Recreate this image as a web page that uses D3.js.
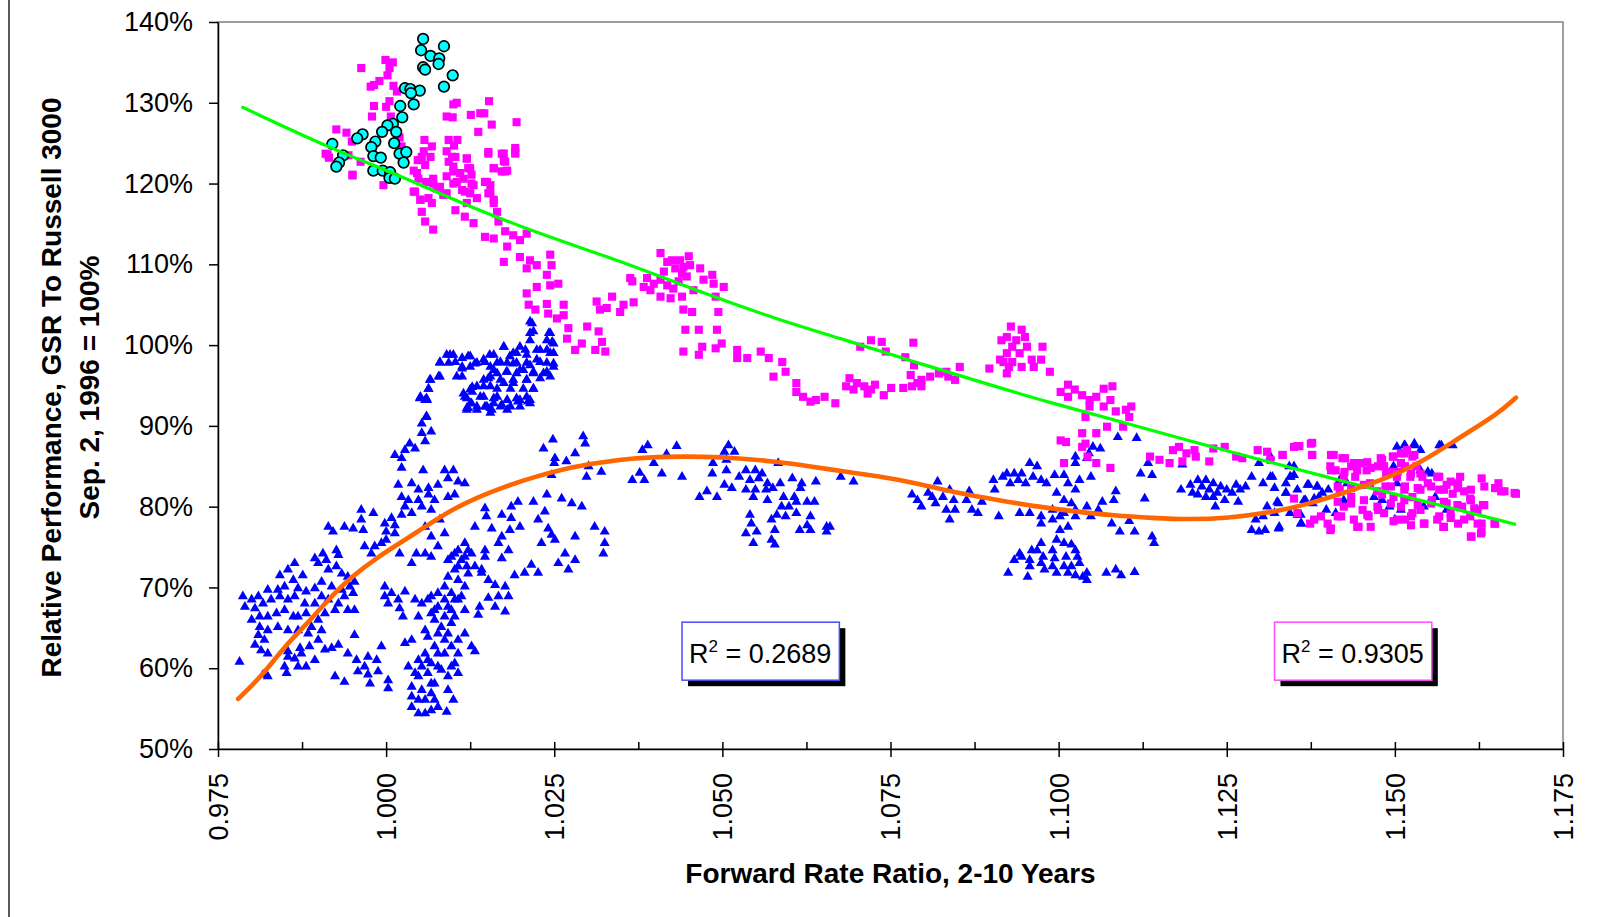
<!DOCTYPE html>
<html>
<head>
<meta charset="utf-8">
<script src="https://cdn.jsdelivr.net/npm/d3@7"></script>
<style>
	html, body { margin: 0; padding: 0; background: #fff; }
	svg { display: block; }
</style>
</head>
<body>
<svg id="chart" width="1601" height="917"></svg>
<script>
const FONT = "'Liberation Sans', Arial, Helvetica, sans-serif";

// axis ticks
const xTicks = [0.975, 1.0, 1.025, 1.05, 1.075, 1.1, 1.125, 1.15, 1.175];
const xMinorTicks = [0.9875, 1.0125, 1.0375, 1.0625, 1.0875, 1.1125, 1.1375, 1.1625];
const yTicks = [50, 60, 70, 80, 90, 100, 110, 120, 130, 140];

// series: [forward rate ratio, relative performance %]
const cyanDots = [
	[1.0055,137.9],[1.0052,136.5],[1.0086,137.0],[1.0066,135.8],[1.0079,135.5],[1.0078,134.8],[1.0055,134.4],[1.0058,134.1],
	[1.0099,133.4],[1.0086,132.0],[1.0028,131.8],[1.0036,131.7],[1.0050,131.5],[1.0037,131.2],[1.0041,129.8],[1.0021,129.6],
	[1.0024,128.2],[1.0010,127.4],[1.0015,126.4],[1.0002,127.2],[0.9994,126.4],[0.9965,126.1],[0.9957,125.6],[0.9984,125.2],
	[0.9978,124.5],[0.9981,123.4],[0.9992,123.2],[1.0012,125.0],[1.0020,123.7],[1.0030,123.9],[1.0026,122.6],[0.9920,124.9],
	[0.9936,123.5],[0.9930,122.6],[0.9926,122.1],[0.9981,121.6],[0.9995,121.6],[1.0006,121.4],[1.0005,120.7],[1.0013,120.6]
];

const magentaSquares = [
	// 1996-97 run
	[0.9963,134.3],[0.9999,135.3],[1.0010,135.0],[1.0005,134.3],[1.0002,133.4],[0.9990,132.7],[0.9977,132.0],[0.9982,132.2],
	[1.0011,132.1],[1.0016,131.4],[1.0005,130.2],[0.9982,129.6],[1.0000,129.5],[0.9979,128.3],[0.9926,126.7],[0.9941,126.3],
	[0.9949,125.2],[0.9913,123.6],[0.9944,123.5],[0.9950,121.0],[0.9996,119.8],[0.9962,122.7],[1.0020,125.7],[1.0023,124.6],
	[1.0007,128.3],[1.0057,125.4],[1.0056,124.0],[1.0068,124.6],[1.0066,123.3],[1.0047,122.9],[1.0041,121.6],[1.0048,120.6],
	[1.0059,120.2],[1.0041,119.0],[1.0051,118.0],[1.0070,120.6],[1.0075,119.4],[1.0085,118.6],[1.0063,118.2],[1.0093,125.4],
	[1.0101,124.7],[1.0090,124.0],[1.0103,123.3],[1.0093,122.7],[1.0100,121.5],[1.0090,120.9],[1.0105,120.2],[1.0110,121.3],
	[1.0120,123.1],[1.0122,121.9],[1.0115,120.6],[1.0127,121.1],[1.0130,119.8],[1.0117,119.0],[1.0135,118.2],[1.0147,120.2],
	[1.0155,119.8],[1.0160,118.0],[1.0152,118.8],[1.0100,129.8],[1.0105,130.0],[1.0090,128.3],[1.0099,128.2],[1.0126,128.5],
	[1.0140,128.7],[1.0146,128.7],[1.0153,130.2],[1.0157,127.3],[1.0137,126.4],[1.0194,127.6],[1.0152,123.7],[1.0172,123.7],
	[1.0175,122.8],[1.0192,124.4],[1.0192,123.7],[1.0160,121.9],[1.0172,121.5],[1.0180,121.6],[1.0177,122.7],[1.0106,125.4],
	[0.9910,123.7],[0.9915,123.2],[0.9950,121.1],
	[1.0053,123.3],[1.0058,122.3],[1.0046,121.3],[1.0043,119.0],[1.0051,118.0],[1.0053,116.5],[1.0058,115.3],[1.0070,114.3],
	[1.0068,117.6],[1.0070,120.0],[1.0080,119.6],[1.0090,118.8],[1.0100,120.0],[1.0113,119.2],[1.0125,118.8],[1.0127,120.0],
	[1.0103,116.7],[1.0117,115.9],[1.0130,115.1],[1.0120,117.6],[1.0098,123.3],[1.0120,123.1],[1.0100,122.1],[1.0125,121.9],
	[1.0152,123.9],[1.0175,123.7],[1.0192,123.9],[1.0160,121.9],[1.0177,121.5],[1.0150,120.2],[1.0155,118.8],[1.0160,117.6],
	[1.0165,116.5],[1.0167,115.3],[1.0147,113.4],[1.0160,113.2],[1.0177,114.1],[1.0189,113.6],[1.0199,113.0],[1.0209,113.8],
	[1.0180,112.2],[1.0175,110.3],[1.0199,110.9],[1.0214,110.5],[1.0224,109.9],[1.0209,109.5],[1.0244,111.2],[1.0246,109.9],
	[1.0239,108.7],[1.0224,107.2],[1.0244,107.4],[1.0256,107.6],[1.0209,106.4],[1.0212,105.0],[1.0222,104.4],[1.0239,105.1],
	[1.0241,103.9],[1.0264,105.0],[1.0264,103.7],[1.0254,103.3],[1.0271,102.1],[1.0269,100.8],[1.0281,99.4],[1.0291,100.2],
	[1.0299,102.3],[1.0316,101.7],[1.0311,99.4],[1.0326,99.2],[1.0321,100.4],[1.0313,105.4],[1.0318,104.4],[1.0328,104.6],
	[1.0336,106.0],[1.0348,104.1],[1.0353,105.0],[1.0368,105.3],
	// 1998 hump
	[1.0408,111.4],[1.0418,110.3],[1.0413,109.1],[1.0425,110.5],[1.0430,109.5],[1.0437,110.5],[1.0442,109.7],[1.0450,111.0],
	[1.0452,109.9],[1.0440,108.9],[1.0447,108.5],[1.0435,107.9],[1.0427,107.0],[1.0418,107.4],[1.0408,108.1],[1.0398,107.6],
	[1.0388,108.3],[1.0383,107.2],[1.0393,106.8],[1.0408,106.0],[1.0423,105.8],[1.0440,106.0],[1.0457,106.8],[1.0467,109.5],
	[1.0472,108.1],[1.0485,108.7],[1.0487,107.6],[1.0502,107.2],[1.0490,106.0],[1.0494,104.1],[1.0442,104.4],[1.0455,104.1],
	[1.0363,108.3],[1.0366,107.9],
	[1.0445,101.9],[1.0465,101.9],[1.0492,101.9],[1.0470,99.8],[1.0442,99.2],[1.0465,98.8],[1.0490,99.6],[1.0499,100.2],
	[1.0522,99.4],[1.0522,98.4],[1.0537,98.4],[1.0557,99.2],[1.0569,98.4],[1.0589,97.9],[1.0576,96.1],[1.0594,96.7],
	[1.0610,95.3],[1.0610,94.2],[1.0620,93.6],[1.0639,93.2],[1.0631,93.0],[1.0652,93.6],[1.0668,92.8],
	[1.0705,99.8],[1.0721,100.6],[1.0737,100.4],[1.0743,99.2],[1.0784,100.3],[1.0772,98.5],[1.0785,97.5],[1.0780,96.3],
	[1.0790,95.3],[1.0796,95.7],[1.0809,96.1],[1.0769,94.7],[1.0782,94.9],[1.0796,94.9],[1.0751,94.7],[1.0740,93.8],
	[1.0721,94.5],[1.0727,95.1],[1.0711,94.9],[1.0700,95.3],[1.0689,95.9],[1.0684,94.9],[1.0695,94.5],[1.0716,94.0],
	[1.0822,96.5],[1.0836,96.1],[1.0846,95.7],[1.0853,97.3],[1.0833,96.7],
	// 1999 spike
	[1.0929,102.3],[1.0945,101.9],[1.0923,101.0],[1.0915,100.6],[1.0937,100.6],[1.0950,101.0],[1.0931,99.8],[1.0942,99.0],
	[1.0923,99.0],[1.0918,97.9],[1.0926,97.3],[1.0923,96.5],[1.0945,97.3],[1.0960,98.2],[1.0974,98.2],[1.0976,99.8],
	[1.0963,97.3],[1.0987,96.7],[1.0953,99.8],[1.0897,97.1],[1.0913,98.2],[1.0931,97.9],
	[1.1014,95.1],[1.1024,94.5],[1.1003,94.2],[1.1014,93.6],[1.1035,93.8],[1.1046,93.2],[1.1056,93.6],[1.1067,94.6],
	[1.1080,94.9],[1.1077,93.2],[1.1085,91.8],[1.1067,92.4],[1.1046,92.4],[1.1040,91.1],[1.1072,89.9],[1.1056,89.1],
	[1.1035,89.1],[1.1040,87.8],[1.1003,88.2],[1.1011,88.0],[1.1008,85.4],[1.1056,85.4],[1.1077,84.8],[1.1043,86.2],
	[1.1035,87.4],[1.1108,92.4],[1.1100,92.0],[1.1105,91.1],[1.1096,89.9],
	// 2000 onward
	[1.1136,86.2],[1.1150,85.8],[1.1165,85.4],[1.1170,87.0],[1.1179,87.4],[1.1190,86.6],[1.1184,85.6],[1.1202,87.0],
	[1.1204,86.2],[1.1224,85.6],[1.1230,87.2],[1.1247,87.4],[1.1264,86.2],[1.1273,86.0],[1.1296,87.0],[1.1310,86.8],
	[1.1315,85.8],[1.1333,86.4],[1.1350,87.4],[1.1358,87.5],[1.1375,87.8],[1.1377,86.4],[1.1350,81.0],[1.1355,79.2],
	[1.1374,77.9],[1.1390,78.8],[1.1404,77.1],[1.1409,86.4],[1.1426,86.0],[1.1412,84.5],[1.1404,85.0],[1.1424,83.7],
	[1.1435,85.0],[1.1449,85.4],[1.1458,84.5],[1.1441,83.7],[1.1418,82.1],[1.1435,81.2],[1.1424,80.0],[1.1415,78.8],
	[1.1452,79.6],[1.1446,77.5],[1.1461,78.8],[1.1475,79.6],[1.1481,81.5],[1.1486,82.5],[1.1481,85.8],[1.1498,86.2],
	[1.1509,86.6],[1.1518,87.0],[1.1526,86.2],[1.1532,85.0],[1.1515,85.0],[1.1503,83.7],[1.1492,84.3],[1.1523,83.7],
	[1.1538,84.1],[1.1515,82.5],[1.1498,81.2],[1.1509,80.0],[1.1526,81.2],[1.1538,82.1],[1.1549,82.9],[1.1566,83.7],
	[1.1566,82.1],[1.1555,80.8],[1.1538,79.6],[1.1526,79.2],[1.1515,78.4],[1.1498,78.2],[1.1543,77.9],[1.1566,78.8],
	[1.1577,80.4],[1.1586,81.6],[1.1594,82.9],[1.1603,81.9],[1.1612,81.0],[1.1600,80.0],[1.1583,79.2],[1.1572,77.5],
	[1.1594,77.9],[1.1612,78.8],[1.1623,79.6],[1.1629,77.9],[1.1649,77.9],[1.1631,80.2],[1.1629,83.5],[1.1649,82.3],
	[1.1663,81.9],[1.1680,81.6],[1.1654,82.9],[1.1614,76.3],[1.1629,76.9],[1.1597,83.7],[1.1577,82.7],[1.1475,85.0],
	[1.1463,82.9],
	[1.1405,86.4],[1.1422,86.0],[1.1439,85.4],[1.1459,85.5],[1.1479,86.0],[1.1497,86.2],[1.1514,86.6],[1.1529,86.4],
	[1.1509,85.4],[1.1484,85.0],[1.1405,84.5],[1.1425,84.3],[1.1444,84.5],[1.1464,84.8],[1.1487,84.1],[1.1504,84.3],
	[1.1524,84.1],[1.1541,83.7],[1.1563,83.7],[1.1583,83.1],[1.1415,82.5],[1.1435,82.3],[1.1454,82.7],[1.1474,81.9],
	[1.1494,82.5],[1.1514,82.1],[1.1534,82.3],[1.1554,82.5],[1.1573,82.1],[1.1593,82.3],[1.1613,82.1],[1.1633,82.5],
	[1.1658,81.9],[1.1678,81.7],[1.1415,80.6],[1.1435,80.4],[1.1454,80.8],[1.1474,80.0],[1.1494,80.4],[1.1514,80.8],
	[1.1534,80.2],[1.1554,80.4],[1.1573,80.6],[1.1593,80.2],[1.1613,80.8],[1.1633,80.2],[1.1618,79.8],[1.1380,78.4],
	[1.1400,77.9],[1.1420,78.8],[1.1439,78.4],[1.1459,79.0],[1.1484,79.2],[1.1504,78.4],[1.1524,78.8],[1.1544,77.9],
	[1.1563,78.4],[1.1583,78.6],[1.1603,78.4],[1.1623,77.9],[1.1648,77.9],[1.1405,77.3],[1.1444,77.5],[1.1464,77.5],
	[1.1524,77.7],[1.1573,77.5],[1.1613,76.3],[1.1628,76.7],[1.1355,87.5],[1.1377,87.9],[1.1377,86.4],[1.1333,86.4]
];

const blueTriangles = [
	// upper cluster
	[1.0214,102.9],[1.0219,101.7],[1.0214,100.6],[1.0244,101.5],[1.0239,100.6],[1.0249,100.2],[1.0207,99.4],[1.0224,99.4],
	[1.0239,99.4],[1.0249,99.0],[1.0194,99.0],[1.0184,98.6],[1.0175,99.8],[1.0160,98.8],[1.0145,98.2],[1.0155,97.3],
	[1.0165,97.8],[1.0180,97.8],[1.0194,97.8],[1.0209,97.8],[1.0224,98.2],[1.0239,97.8],[1.0249,97.3],[1.0135,97.8],
	[1.0125,98.6],[1.0113,98.4],[1.0100,98.8],[1.0090,98.8],[1.0080,97.8],[1.0093,97.8],[1.0113,97.1],[1.0125,97.3],
	[1.0105,96.1],[1.0080,96.1],[1.0065,95.7],[1.0063,94.6],[1.0050,93.4],[1.0060,93.4],[1.0115,94.0],[1.0125,94.5],
	[1.0135,94.9],[1.0145,95.7],[1.0155,96.1],[1.0165,96.5],[1.0180,96.7],[1.0194,96.5],[1.0204,96.9],[1.0219,96.7],
	[1.0234,96.5],[1.0244,96.1],[1.0209,95.7],[1.0189,95.3],[1.0175,95.3],[1.0155,94.9],[1.0165,93.6],[1.0145,93.6],
	[1.0125,92.8],[1.0120,92.0],[1.0135,92.0],[1.0150,92.4],[1.0160,92.8],[1.0180,93.2],[1.0194,93.4],[1.0209,93.6],
	[1.0219,94.6],[1.0214,92.8],[1.0199,92.4],[1.0180,92.0],[1.0155,91.6],[1.0060,91.2],
	[1.0217,102.7],[1.0214,101.5],[1.0242,101.5],[1.0247,100.4],[1.0175,99.8],[1.0199,99.8],[1.0189,99.0],[1.0209,98.8],
	[1.0229,99.4],[1.0244,99.0],[1.0154,98.8],[1.0147,97.9],[1.0170,97.9],[1.0189,97.7],[1.0214,97.5],[1.0229,97.9],
	[1.0249,97.7],[1.0160,96.9],[1.0179,96.7],[1.0199,96.9],[1.0219,96.5],[1.0239,96.7],[1.0152,95.9],[1.0170,95.7],
	[1.0189,95.7],[1.0209,95.7],[1.0229,95.9],[1.0145,94.9],[1.0165,94.6],[1.0185,94.6],[1.0204,94.6],[1.0219,94.6],
	[1.0128,94.2],[1.0120,93.4],[1.0140,93.6],[1.0160,93.4],[1.0180,93.2],[1.0199,93.2],[1.0214,93.2],[1.0120,92.2],
	[1.0135,92.4],[1.0155,92.2],[1.0170,92.4],[1.0185,92.4],[1.0095,98.8],[1.0080,97.9],[1.0103,97.9],[1.0122,98.6],
	[1.0113,97.3],[1.0132,97.7],[1.0078,96.1],[1.0113,96.1],[1.0066,95.7],[1.0063,94.6],[1.0051,93.6],[1.0061,93.2],
	[1.0128,94.8],[1.0117,93.6],
	[1.0058,93.2],[1.0060,91.1],[1.0053,90.3],[1.0067,89.3],[1.0053,89.1],[1.0058,88.1],[1.0035,87.8],[1.0028,87.0],
	[1.0043,87.2],[1.0013,86.4],[1.0023,86.0],[1.0023,84.8],[1.0055,84.5],
	[1.0127,92.8],[1.0147,92.4],[1.0172,92.6],[1.0196,93.0],[1.0211,93.0],[1.0122,92.2],[1.0157,92.0],
	[1.0248,88.3],[1.0293,88.7],[1.0296,87.8],[1.0234,87.2],[1.0251,86.0],[1.0281,86.6],[1.0268,85.6],[1.0250,85.4],
	[1.0301,85.0],[1.0320,84.3],[1.0298,83.7],[1.0246,83.9],
	// lower left mass
	[1.0018,82.7],[1.0038,82.9],[1.0048,82.1],[1.0063,82.3],[1.0077,82.7],[1.0092,83.5],[1.0087,84.5],[1.0100,84.5],
	[1.0107,83.1],[1.0117,82.9],[1.0102,81.5],[1.0092,81.2],[1.0072,80.8],[1.0063,81.5],[1.0048,80.8],[1.0033,80.8],
	[1.0023,81.2],[1.0028,80.0],[1.0038,79.2],[1.0023,79.0],[1.0053,80.0],[1.0067,79.6],[1.0008,78.6],[0.9998,77.9],
	[1.0013,77.7],[1.0000,76.9],[1.0013,76.7],[0.9983,75.1],[0.9968,75.1],[0.9978,74.2],[0.9993,75.5],[1.0000,75.9],
	[1.0020,74.2],[1.0038,73.0],[1.0045,74.2],[1.0058,74.2],[1.0067,73.8],[1.0077,75.1],[1.0067,76.3],[1.0087,76.7],
	[1.0080,78.4],[1.0058,77.5],
	[0.9963,79.6],[0.9981,79.2],[0.9963,78.4],[0.9914,77.5],[0.9921,76.9],[0.9938,77.5],[0.9951,77.3],[0.9966,77.1],
	[0.9926,74.6],[0.9929,74.0],[0.9906,74.2],[0.9894,73.6],[0.9864,73.0],[0.9854,72.2],[0.9842,71.5],[0.9862,70.9],
	[0.9876,71.5],[0.9899,73.0],[0.9911,73.4],[0.9914,72.2],[0.9926,72.6],[0.9934,71.7],[0.9943,71.3],[0.9953,70.7],
	[0.9946,70.1],[0.9934,69.7],[0.9919,70.1],[0.9904,70.7],[0.9894,69.9],[0.9881,69.5],[0.9869,69.9],[0.9849,70.1],
	[0.9839,69.7],[0.9824,69.7],[0.9810,68.9],[0.9800,68.5],[0.9787,68.9],[0.9790,67.6],[0.9805,67.4],[0.9817,68.0],
	[0.9829,68.5],[0.9842,68.9],[0.9854,68.5],[0.9864,68.9],[0.9879,68.0],[0.9894,68.0],[0.9904,68.9],[0.9914,68.5],
	[0.9929,68.0],[0.9938,68.9],[0.9951,69.3],[0.9953,67.2],[0.9943,67.2],[0.9924,67.2],[0.9909,66.8],[0.9899,66.0],
	[0.9889,65.1],[0.9904,64.7],[0.9884,64.3],[0.9869,64.7],[0.9854,64.7],[0.9839,65.1],[0.9824,64.7],[0.9812,65.1],
	[0.9800,66.0],[0.9812,66.4],[0.9824,66.4],[0.9837,66.8],[0.9849,67.2],[0.9862,66.4],[0.9869,66.4],[0.9881,66.8],
	[0.9810,64.1],[0.9819,63.5],[0.9805,62.9],[0.9814,62.2],[0.9824,61.8],[0.9782,60.8],[0.9854,62.1],[0.9872,62.5],
	[0.9869,60.2],[0.9881,60.2],[0.9849,60.2],[0.9852,59.4],[0.9824,59.0],[0.9817,59.2],[0.9854,61.4],[0.9864,61.2],
	[0.9874,61.8],[0.9886,62.7],[0.9899,63.5],[0.9909,62.3],[0.9894,61.0],
	[0.9953,64.1],[0.9943,61.8],[0.9956,61.0],[0.9973,61.4],[0.9968,60.2],[0.9986,61.0],[0.9988,59.6],[0.9973,59.2],
	[0.9958,59.6],[0.9938,58.3],[0.9924,59.0],[0.9919,62.5],[0.9929,62.9],[0.9993,62.7],[0.9976,58.1],[1.0003,58.5],
	[1.0003,57.5],
	[0.9998,68.9],[1.0008,69.3],[1.0018,68.5],[1.0028,69.5],[1.0043,68.5],[1.0003,68.0],[1.0020,67.4],[0.9998,70.1],
	[1.0025,66.4],[1.0062,68.5],
	// 1.01 column
	[1.0117,75.5],[1.0107,74.6],[1.0097,73.8],[1.0112,73.4],[1.0120,72.6],[1.0102,72.2],[1.0092,71.3],[1.0107,70.9],
	[1.0117,70.1],[1.0097,69.3],[1.0087,68.5],[1.0107,68.5],[1.0077,67.6],[1.0097,67.2],[1.0117,67.2],[1.0087,66.4],
	[1.0072,66.0],[1.0097,65.6],[1.0077,64.3],[1.0062,63.9],[1.0087,63.5],[1.0107,63.5],[1.0072,62.7],[1.0058,61.8],
	[1.0087,61.8],[1.0048,61.0],[1.0067,60.6],[1.0043,59.4],[1.0062,59.4],[1.0082,59.8],[1.0097,60.2],[1.0038,57.7],
	[1.0053,57.3],[1.0067,56.9],[1.0048,56.1],[1.0058,54.4],[1.0077,55.2],[1.0048,54.4],[1.0092,57.3],[1.0100,56.1],
	[1.0090,54.6],[1.0038,56.5],[1.0033,60.2],[1.0117,64.3],[1.0127,62.7],[1.0132,62.1],[1.0107,61.8],[1.0102,60.6],
	[1.0072,58.1],[1.0028,63.1],[1.0038,63.5],[1.0058,64.7],[1.0048,66.4],[1.0067,68.9],[1.0053,68.0],[1.0077,69.3],
	[1.0087,70.1],[1.0122,71.7],[1.0132,72.6],[1.0142,72.2],[1.0147,73.8],[1.0127,74.2],
	[1.0072,67.2],[1.0082,65.1],[1.0092,64.3],[1.0102,66.4],[1.0067,66.8],[1.0077,61.8],[1.0097,62.7],[1.0062,61.0],
	[1.0077,60.2],[1.0053,60.2],[1.0092,59.0],[1.0107,59.4],[1.0048,59.0],[1.0067,58.1],[1.0058,56.1],[1.0072,56.1],
	[1.0038,55.2],[1.0067,54.8],[1.0112,68.9],[1.0092,67.6],[1.0102,68.5],[1.0092,73.4],[1.0107,72.6],[1.0117,73.8],
	[1.0122,74.6],[1.0102,74.2],
	[1.0132,77.5],[1.0147,79.8],[1.0149,78.8],[1.0157,77.3],[1.0172,79.0],[1.0186,80.0],[1.0196,80.6],[1.0219,80.6],
	[1.0239,81.5],[1.0261,81.0],[1.0276,80.4],[1.0291,80.0],[1.0236,79.4],[1.0186,78.6],[1.0199,77.5],[1.0184,77.1],
	[1.0167,75.5],[1.0172,76.3],[1.0182,74.6],[1.0172,73.6],[1.0147,74.6],[1.0142,71.8],[1.0152,70.9],[1.0162,70.3],
	[1.0177,70.1],[1.0191,71.5],[1.0206,71.8],[1.0226,71.8],[1.0216,72.8],[1.0226,78.4],[1.0241,77.3],[1.0246,76.5],
	[1.0231,75.5],[1.0251,75.9],[1.0266,74.2],[1.0256,73.0],[1.0271,72.2],[1.0281,73.4],[1.0310,77.5],[1.0325,76.9],
	[1.0325,75.5],[1.0323,74.2],[1.0281,76.3],[1.0152,68.7],[1.0162,67.6],[1.0177,67.0],[1.0167,68.9],[1.0182,68.9],
	[1.0139,67.6],[1.0137,66.6],
	// 1998 stretch
	[1.0381,87.0],[1.0389,87.6],[1.0417,86.5],[1.0432,87.5],[1.0398,85.4],[1.0377,84.2],[1.0410,84.1],[1.0366,83.3],
	[1.0384,83.3],[1.0440,83.7],[1.0466,81.2],[1.0477,81.9],[1.0492,81.2],[1.0486,85.4],[1.0503,86.8],[1.0509,87.6],
	[1.0518,86.8],[1.0506,85.8],[1.0506,84.5],[1.0485,84.1],[1.0503,82.7],[1.0514,82.3],[1.0525,83.7],[1.0535,84.5],
	[1.0549,84.5],[1.0559,84.1],[1.0541,83.3],[1.0554,83.5],[1.0535,82.1],[1.0549,82.1],[1.0546,81.2],[1.0567,82.9],
	[1.0565,82.1],[1.0575,82.3],[1.0567,80.8],[1.0586,82.9],[1.0604,83.5],[1.0618,82.9],[1.0616,82.3],[1.0639,83.1],
	[1.0583,85.4],[1.0591,81.2],[1.0607,81.2],[1.0588,80.0],[1.0610,80.6],[1.0626,80.6],[1.0637,80.6],[1.0599,80.0],
	[1.0610,79.2],[1.0581,79.0],[1.0594,78.8],[1.0631,78.8],[1.0626,77.7],[1.0573,78.4],[1.0578,77.1],[1.0541,79.0],
	[1.0543,77.9],[1.0535,76.7],[1.0551,76.9],[1.0546,75.5],[1.0573,75.9],[1.0578,75.3],[1.0615,77.1],[1.0631,77.1],
	[1.0655,77.5],[1.0660,77.5],[1.0655,76.9],[1.0676,83.7],[1.0695,83.1],
	[1.0782,81.5],[1.0790,80.8],[1.0796,80.0],[1.0806,81.7],[1.0812,81.2],[1.0817,80.4],[1.0820,83.1],[1.0828,81.2],
	[1.0833,79.6],[1.0838,82.1],[1.0844,80.8],[1.0846,79.6],[1.0838,78.4],
	// 1999-2000
	[1.0863,80.8],[1.0867,81.9],[1.0871,79.6],[1.0880,79.2],[1.0886,80.6],[1.0903,83.3],[1.0905,82.1],[1.0911,78.8],
	[1.0917,83.7],[1.0923,84.1],[1.0928,82.9],[1.0934,84.1],[1.0940,83.3],[1.0945,84.1],[1.0951,82.9],[1.0957,85.4],
	[1.0968,85.0],[1.0962,83.7],[1.0974,83.3],[1.0982,82.9],[1.0994,83.9],[1.1008,83.9],[1.1014,82.9],[1.1025,86.2],
	[1.1031,83.3],[1.1048,83.7],[1.0997,81.7],[1.1008,80.8],[1.1019,80.4],[1.1025,82.1],[1.1042,80.0],[1.1025,79.6],
	[1.1008,79.2],[1.0991,79.6],[1.0974,78.8],[1.0957,79.2],[1.0942,79.2],[1.0974,77.9],[1.0991,78.4],[1.1002,78.8],
	[1.1014,77.5],[1.1025,78.8],[1.1048,78.8],[1.1065,80.6],[1.1059,79.6],[1.1082,80.8],[1.1085,81.9],[1.1079,77.9],
	[1.1091,76.9],[1.1105,78.2],[1.1113,76.9],[1.1128,81.0],[1.1139,76.3],[1.1142,75.5],[1.1088,88.6],[1.1116,88.5],
	[1.1051,87.4],[1.1062,87.2],[1.1045,86.6],[1.1025,85.4],[1.1042,86.0],[1.1122,84.1],[1.1139,83.9],
	[1.1002,77.1],[1.0997,75.9],[1.1008,75.5],[1.1019,75.3],[1.1025,74.6],[1.0991,74.6],[1.0974,75.5],[1.0968,74.6],
	[1.0960,74.6],[1.0945,73.8],[1.0934,73.4],[1.0957,73.4],[1.0974,73.0],[1.0991,72.6],[1.1008,72.6],[1.1019,72.6],
	[1.1031,73.0],[1.1042,71.8],[1.1036,71.3],[1.1025,71.5],[1.1014,71.8],[1.0997,71.8],[1.0979,72.2],[1.0954,71.3],
	[1.0925,71.8],[1.1042,70.9],[1.1071,71.8],[1.1085,72.2],[1.1093,71.5],[1.1113,71.9],[1.0957,72.6],[1.0942,74.2],
	[1.0977,73.8],[1.0994,73.6],[1.1011,73.8],[1.1028,73.8],
	[1.1182,82.1],[1.1196,82.7],[1.1199,81.7],[1.1207,83.3],[1.1213,82.5],[1.1219,83.3],[1.1224,82.1],[1.1230,82.9],
	[1.1236,81.7],[1.1241,82.5],[1.1250,82.1],[1.1258,81.7],[1.1264,82.7],[1.1270,82.1],[1.1278,82.5],[1.1207,81.5],
	[1.1219,81.2],[1.1230,81.2],[1.1247,80.8],[1.1267,80.6],[1.1233,80.0],[1.1133,85.4],[1.1184,85.2],
	[1.1287,83.7],[1.1304,82.9],[1.1318,83.7],[1.1321,82.3],[1.1338,82.9],[1.1344,83.7],[1.1350,83.9],[1.1355,82.1],
	[1.1338,81.7],[1.1327,80.4],[1.1321,79.2],[1.1310,80.0],[1.1304,78.8],[1.1293,78.4],[1.1287,77.1],[1.1298,76.9],
	[1.1307,77.1],[1.1327,77.3],[1.1344,79.2],[1.1355,79.0],[1.1361,77.9],[1.1372,82.7],[1.1384,82.5],[1.1392,81.7],
	[1.1401,82.1],[1.1367,80.8],[1.1378,80.4],[1.1387,81.2],[1.1398,79.6],[1.1412,79.2],[1.1424,80.8],[1.1350,85.0],
	[1.1298,85.4],[1.1315,86.2],[1.1418,83.3],[1.1429,82.9],
	[1.1315,83.7],[1.1343,85.0],[1.1345,83.7],[1.1370,82.7],[1.1385,82.5],[1.1338,81.7],[1.1365,80.8],[1.1380,81.0],
	[1.1325,80.6],[1.1360,79.0],[1.1360,77.9],[1.1328,77.5],
	[1.1469,81.2],[1.1481,80.8],[1.1503,87.4],[1.1515,87.6],[1.1529,87.8],[1.1538,87.0],[1.1566,87.6],[1.1586,87.6],
	[1.1498,85.0],[1.1503,82.9],[1.1492,80.0],[1.1500,78.4],[1.1509,79.6],[1.1538,84.5],[1.1555,84.1],[1.1543,80.0],
	[1.1560,81.2],[1.1577,79.6],[1.1514,87.6],[1.1529,87.6],[1.1569,87.6],[1.1549,84.3]
];

// trend lines as drawn on the chart
const blueTrend = [
	[0.9780,56.2],[0.9815,59.0],[0.9849,62.7],[0.9879,65.2],[0.9914,68.5],[0.9948,71.3],[0.9988,73.8],[1.0028,75.9],
	[1.0058,77.5],[1.0097,79.6],[1.0137,81.2],[1.0177,82.5],[1.0221,83.7],[1.0271,84.8],[1.0312,85.4],[1.0365,86.0],
	[1.0418,86.2],[1.0472,86.2],[1.0525,86.0],[1.0578,85.6],[1.0631,85.0],[1.0684,84.3],[1.0737,83.7],[1.0790,82.9],
	[1.0854,81.6],[1.0911,80.8],[1.0968,80.0],[1.1025,79.4],[1.1082,78.9],[1.1139,78.6],[1.1196,78.4],[1.1253,78.6],
	[1.1310,79.2],[1.1367,80.2],[1.1424,81.7],[1.1481,83.3],[1.1538,85.4],[1.1595,88.5],[1.1652,91.4],[1.1680,93.5]
];
const magentaTrend = [
	[0.9785,129.5],[0.9921,124.2],[1.0006,121.5],[1.0095,118.2],[1.0209,114.3],[1.0353,110.3],[1.0472,106.4],[1.0578,103.3],
	[1.0684,100.6],[1.0790,97.8],[1.0897,95.1],[1.0990,92.8],[1.1090,90.6],[1.1196,88.1],[1.1310,85.6],[1.1424,83.1],
	[1.1538,80.8],[1.1680,77.8]
];

// R squared labels, anchored at top-left corner in data units
const rLabels = [
	{ value: "0.2689", x: 1.0440, y: 65.7, color: "#4a4aff" },
	{ value: "0.9305", x: 1.1321, y: 65.7, color: "#ff4aff" }
];

const W = 1601;
const H = 917;
const margin = { left: 218, top: 22, right: 38, bottom: 168 };

const svg = d3.select("#chart").attr("font-family", FONT);

const x = d3.scaleLinear().domain([0.975, 1.175]).range([margin.left, W - margin.right]);
const y = d3.scaleLinear().domain([50, 140]).range([H - margin.bottom, margin.top]);

// outer frame line on the left
svg.append("line")
	.attr("x1", 9).attr("x2", 9).attr("y1", 0).attr("y2", H)
	.attr("stroke", "#222").attr("stroke-width", 1.5);

// plot frame (top and right in grey)
svg.append("rect")
	.attr("x", x(0.975)).attr("y", y(140))
	.attr("width", x(1.175) - x(0.975)).attr("height", y(50) - y(140))
	.attr("fill", "none").attr("stroke", "#808080").attr("stroke-width", 1.5);

// Y axis
const yAxis = svg.append("g")
	.attr("transform", `translate(${x(0.975)},0)`)
	.call(d3.axisLeft(y).tickValues(yTicks).tickSize(9).tickSizeOuter(0).tickPadding(16)
		.tickFormat((d) => `${d}%`))
	.attr("font-family", FONT).attr("font-size", 27);
yAxis.select(".domain").attr("stroke", "#000").attr("stroke-width", 1.5);
yAxis.selectAll(".tick line").attr("stroke", "#000").attr("stroke-width", 1.5);
yAxis.selectAll(".tick text").attr("fill", "#000");

// X axis, major ticks cross the axis line
const xAxis = svg.append("g")
	.attr("transform", `translate(0,${y(50)})`)
	.call(d3.axisBottom(x).tickValues(xTicks).tickSize(8).tickSizeOuter(0)
		.tickFormat(d3.format(".3f")))
	.attr("font-family", FONT).attr("font-size", 27);
xAxis.select(".domain").attr("stroke", "#000").attr("stroke-width", 1.5);
xAxis.selectAll(".tick line").attr("y1", -7).attr("y2", 8).attr("stroke", "#000").attr("stroke-width", 1.5);
xAxis.selectAll(".tick text")
	.attr("fill", "#000")
	.attr("x", 0).attr("y", 0).attr("dy", "0.35em")
	.attr("text-anchor", "end")
	.attr("transform", "translate(0,24) rotate(-90)");

// minor ticks inside the plot
svg.append("g")
	.attr("transform", `translate(0,${y(50)})`)
	.call(d3.axisBottom(x).tickValues(xMinorTicks).tickSize(-7).tickSizeOuter(0).tickFormat(""))
	.call((g) => g.select(".domain").remove())
	.selectAll(".tick line").attr("stroke", "#000").attr("stroke-width", 1.5);

// axis titles
const midY = (y(50) + y(140)) / 2 + 2;
svg.append("text")
	.attr("transform", `translate(51,${midY}) rotate(-90)`)
	.attr("text-anchor", "middle").attr("dy", "0.36em")
	.attr("font-size", 28).attr("font-weight", "bold")
	.text("Relative Performance, GSR To Russell 3000");
svg.append("text")
	.attr("transform", `translate(89,${midY}) rotate(-90)`)
	.attr("text-anchor", "middle").attr("dy", "0.36em")
	.attr("font-size", 28).attr("font-weight", "bold")
	.text("Sep. 2, 1996 = 100%");
svg.append("text")
	.attr("x", (x(0.975) + x(1.175)) / 2).attr("y", 883)
	.attr("text-anchor", "middle")
	.attr("font-size", 28).attr("font-weight", "bold")
	.text("Forward Rate Ratio, 2-10 Years");

// blue triangles
svg.append("g").attr("class", "blue")
	.selectAll("path")
	.data(blueTriangles)
	.join("path")
	.attr("transform", (d) => `translate(${x(d[0])},${y(d[1])})`)
	.attr("d", d3.symbol(d3.symbolTriangle, 44))
	.attr("fill", "#0000ff");

// magenta squares
svg.append("g").attr("class", "magenta")
	.selectAll("path")
	.data(magentaSquares)
	.join("path")
	.attr("transform", (d) => `translate(${x(d[0])},${y(d[1])})`)
	.attr("d", d3.symbol(d3.symbolSquare, 66))
	.attr("fill", "#ff00ff");

// cyan circles
svg.append("g").attr("class", "cyan")
	.selectAll("circle")
	.data(cyanDots)
	.join("circle")
	.attr("cx", (d) => x(d[0]))
	.attr("cy", (d) => y(d[1]))
	.attr("r", 5.3)
	.attr("fill", "#00ffff")
	.attr("stroke", "#000")
	.attr("stroke-width", 1.7);

// trend lines
const line = d3.line()
	.x((d) => x(d[0]))
	.y((d) => y(d[1]))
	.curve(d3.curveBasis);

svg.append("path")
	.datum(magentaTrend)
	.attr("d", line)
	.attr("fill", "none")
	.attr("stroke", "#00ff00")
	.attr("stroke-width", 3.2);

svg.append("path")
	.datum(blueTrend)
	.attr("d", line)
	.attr("fill", "none")
	.attr("stroke", "#ff6600")
	.attr("stroke-width", 4.6)
	.attr("stroke-linecap", "round");

// R squared boxes
rLabels.forEach((r) => {
	const g = svg.append("g").attr("transform", `translate(${x(r.x)},${y(r.y)})`);
	const t = g.append("text").attr("x", 7).attr("y", 41).attr("font-size", 27).attr("fill", "#000");
	t.append("tspan").text("R");
	t.append("tspan").attr("font-size", 17).attr("dy", -11).text("2");
	t.append("tspan").attr("dy", 11).text(`\u00a0= ${r.value}`);

	const bb = t.node().getBBox();
	const w = bb.width + 15;
	const h = 58;

	g.insert("rect", "text")
		.attr("x", 6).attr("y", 6).attr("width", w).attr("height", h)
		.attr("fill", "#000");
	g.insert("rect", "text")
		.attr("width", w).attr("height", h)
		.attr("fill", "#fff")
		.attr("stroke", r.color).attr("stroke-width", 1.5);
});
</script>
</body>
</html>
